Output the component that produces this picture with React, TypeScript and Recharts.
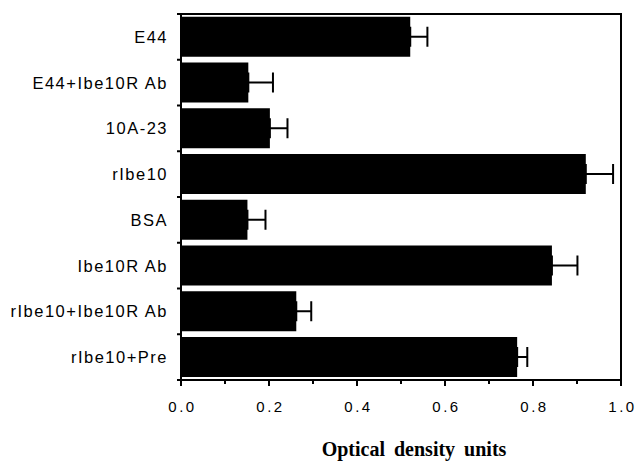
import React from 'react';
import { BarChart, Bar, XAxis, YAxis, ErrorBar, ReferenceArea } from 'recharts';

const categories = ['E44', 'E44+Ibe10R Ab', '10A-23', 'rIbe10', 'BSA', 'Ibe10R Ab', 'rIbe10+Ibe10R Ab', 'rIbe10+Pre'];
const values = [0.521, 0.153, 0.202, 0.92, 0.151, 0.843, 0.262, 0.764];
const errors = [0.039, 0.056, 0.04, 0.062, 0.041, 0.058, 0.034, 0.023];
const xTicks = [0, 0.1, 0.2, 0.3, 0.4, 0.5, 0.6, 0.7, 0.8, 0.9, 1.0];
const majorTicks = [0, 0.2, 0.4, 0.6, 0.8, 1.0];
const xTitle = 'Optical density units';

const data = categories.map((name, i) => ({ name, value: values[i], err: [0, errors[i]] }));

const XTick = (props: any) => {
  const { x, y, payload } = props;
  const v = payload.value;
  const isMajor = majorTicks.some((m) => Math.abs(m - v) < 1e-6);
  return (
    <g>
      <line x1={x} x2={x} y1={y} y2={y + (isMajor ? 6 : 4)} stroke="#000" strokeWidth={2} />
      {isMajor && (
        <text x={x + 1.5} y={y + 32} textAnchor="middle" fontFamily="'Liberation Sans', Arial, sans-serif" fontSize={15} letterSpacing={2.5} fill="#000">
          {v.toFixed(1)}
        </text>
      )}
    </g>
  );
};

const YTick = (props: any) => {
  const { x, y, payload, index } = props;
  const off = payload.offset ?? 0;
  return (
    <g>
      <line x1={x - 4} x2={x} y1={y - off} y2={y - off} stroke="#000" strokeWidth={2} />
      {index === categories.length - 1 && (
        <line x1={x - 4} x2={x} y1={y + off} y2={y + off} stroke="#000" strokeWidth={2} />
      )}
      <text x={x - 13} y={y} dy="0.36em" textAnchor="end" fontFamily="'Liberation Sans', Arial, sans-serif" fontSize={16.5} letterSpacing={1.5} fill="#000">
        {payload.value}
      </text>
    </g>
  );
};

const TitleLabel = (props: any) => {
  const { viewBox } = props;
  return (
    <text x={viewBox.x + viewBox.width / 2 + 13} y={viewBox.y + viewBox.height - 6} textAnchor="middle" fontFamily="'Liberation Serif', 'Times New Roman', serif" fontWeight="bold" fontSize={20} wordSpacing={4} fill="#000">
      {xTitle}
    </text>
  );
};

export default function App() {
  return (
    <div style={{ position: 'absolute', left: 0, top: 0, background: '#fff' }}>
      <BarChart
        width={639}
        height={462}
        data={data}
        layout="vertical"
        margin={{ top: 14, right: 18, bottom: 0, left: 0 }}
        barCategoryGap="6%"
      >
        <XAxis
          type="number"
          domain={[0, 1]}
          ticks={xTicks}
          interval={0}
          tick={<XTick />}
          tickLine={false}
          tickSize={0}
          tickMargin={0}
          height={82}
          axisLine={{ stroke: '#000', strokeWidth: 2 }}
          label={<TitleLabel />}
        />
        <YAxis
          type="category"
          dataKey="name"
          width={181}
          interval={0}
          tick={<YTick />}
          tickLine={false}
          tickSize={0}
          tickMargin={0}
          axisLine={{ stroke: '#000', strokeWidth: 2 }}
        />
        <ReferenceArea x1={0} x2={1} fill="none" fillOpacity={0} stroke="#000" strokeWidth={2} ifOverflow="visible" />
        <Bar dataKey="value" fill="#000" isAnimationActive={false}>
          <ErrorBar dataKey="err" direction="x" width={10} stroke="#000" strokeWidth={2} />
        </Bar>
      </BarChart>
    </div>
  );
}
